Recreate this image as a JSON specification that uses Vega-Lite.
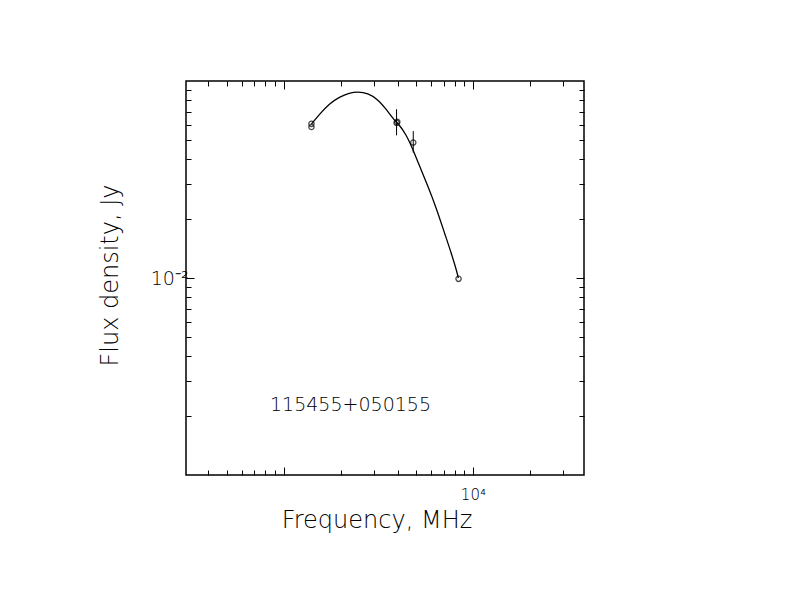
{
  "$schema": "https://vega.github.io/schema/vega-lite/v6.json",
  "width": 398,
  "height": 394,
  "autosize": "none",
  "padding": {"left": 186, "top": 81, "right": 208, "bottom": 137},
  "background": "white",
  "config": {
    "view": {"stroke": "black", "strokeWidth": 1.5},
    "axis": {
      "domain": false,
      "grid": false,
      "tickColor": "black",
      "tickWidth": 1,
      "labelColor": "black",
      "titleColor": "black",
      "labelFont": "DejaVu Sans",
      "titleFont": "DejaVu Sans",
      "labelFontWeight": 200,
      "titleFontWeight": 200,
      "labelOverlap": false,
      "labelFlush": false
    },
    "text": {"font": "DejaVu Sans", "fontWeight": 200}
  },
  "datasets": {
    "curve": [
      {"freq": 1402, "flux": 0.0605},
      {"freq": 1545, "flux": 0.0678},
      {"freq": 1745, "flux": 0.0768},
      {"freq": 1971, "flux": 0.0830},
      {"freq": 2226, "flux": 0.0870},
      {"freq": 2464, "flux": 0.0884},
      {"freq": 2783, "flux": 0.0867},
      {"freq": 3143, "flux": 0.0808},
      {"freq": 3482, "flux": 0.0719},
      {"freq": 3852, "flux": 0.0630},
      {"freq": 4011, "flux": 0.0612},
      {"freq": 4442, "flux": 0.0536},
      {"freq": 4814, "flux": 0.0450},
      {"freq": 5224, "flux": 0.0370},
      {"freq": 5780, "flux": 0.0293},
      {"freq": 6402, "flux": 0.0227},
      {"freq": 7085, "flux": 0.0169},
      {"freq": 7686, "flux": 0.0134},
      {"freq": 8270, "flux": 0.0106},
      {"freq": 8373, "flux": 0.0100}
    ],
    "points": [
      {"freq": 1402, "flux": 0.0606},
      {"freq": 1402, "flux": 0.0584},
      {"freq": 3950, "flux": 0.0613, "lo": 0.0530, "hi": 0.0719},
      {"freq": 3985, "flux": 0.0620},
      {"freq": 4840, "flux": 0.0487, "lo": 0.0433, "hi": 0.0557},
      {"freq": 8400, "flux": 0.0099}
    ],
    "labels": [
      {"name": "115455+050155"}
    ]
  },
  "layer": [
    {
      "data": {"name": "curve"},
      "mark": {"type": "line", "color": "black", "strokeWidth": 1.3, "interpolate": "basis"},
      "encoding": {
        "x": {
          "field": "freq", "type": "quantitative",
          "scale": {"type": "log", "domain": [304.5, 38670], "nice": false},
          "axis": {
            "orient": "bottom", "values": [1000, 10000], "tickSize": -8,
            "labelExpr": "datum.value == 10000 ? '10⁴' : ''",
            "labelFontSize": 15, "labelBaseline": "alphabetic", "labelPadding": 32,
            "title": "Frequency, MHz", "titleFontSize": 24,
            "titleX": 190.5, "titleY": 52, "titleBaseline": "alphabetic", "titleAlign": "center"
          }
        },
        "y": {
          "field": "flux", "type": "quantitative",
          "scale": {"type": "log", "domain": [0.001, 0.1], "nice": false},
          "axis": {
            "orient": "left", "values": [0.01], "tickSize": -8,
            "labelExpr": "'10⁻²'",
            "labelFontSize": 19, "labelPadding": 6, "labelBaseline": "middle",
            "title": "Flux density, Jy", "titleFontSize": 24, "titleAngle": -90,
            "titleX": -75.5, "titleY": 194, "titleBaseline": "middle", "titleAlign": "center"
          }
        }
      }
    },
    {
      "data": {"name": "points"},
      "mark": {"type": "point", "shape": "circle", "filled": false, "color": "black", "size": 28, "strokeWidth": 1.3},
      "encoding": {
        "x": {
          "field": "freq", "type": "quantitative",
          "scale": {"type": "log", "domain": [304.5, 38670], "nice": false},
          "axis": {
            "orient": "bottom", "values": [400, 500, 600, 700, 800, 900, 2000, 3000, 4000, 5000, 6000, 7000, 8000, 9000, 20000, 30000],
            "tickSize": -5, "labels": false, "title": null
          }
        },
        "y": {
          "field": "flux", "type": "quantitative",
          "scale": {"type": "log", "domain": [0.001, 0.1], "nice": false},
          "axis": {
            "orient": "left", "values": [0.002, 0.003, 0.004, 0.005, 0.006, 0.007, 0.008, 0.009, 0.02, 0.03, 0.04, 0.05, 0.06, 0.07, 0.08, 0.09],
            "tickSize": -5, "labels": false, "title": null
          }
        }
      }
    },
    {
      "data": {"name": "points"},
      "transform": [{"filter": "isValid(datum.lo)"}],
      "mark": {"type": "rule", "color": "black", "strokeWidth": 1},
      "encoding": {
        "x": {
          "field": "freq", "type": "quantitative",
          "scale": {"type": "log", "domain": [304.5, 38670], "nice": false},
          "axis": {"orient": "top", "values": [1000, 10000], "tickSize": -8, "labels": false, "title": null}
        },
        "y": {
          "field": "lo", "type": "quantitative",
          "scale": {"type": "log", "domain": [0.001, 0.1], "nice": false},
          "axis": {"orient": "right", "values": [0.01], "tickSize": -8, "labels": false, "title": null}
        },
        "y2": {"field": "hi"}
      }
    },
    {
      "data": {"name": "labels"},
      "mark": {"type": "text", "fontSize": 19, "color": "black", "align": "center", "baseline": "middle"},
      "encoding": {
        "text": {"field": "name", "type": "nominal"},
        "x": {
          "datum": 2255, "type": "quantitative",
          "scale": {"type": "log", "domain": [304.5, 38670], "nice": false},
          "axis": {
            "orient": "top", "values": [400, 500, 600, 700, 800, 900, 2000, 3000, 4000, 5000, 6000, 7000, 8000, 9000, 20000, 30000],
            "tickSize": -5, "labels": false, "title": null
          }
        },
        "y": {
          "datum": 0.00227, "type": "quantitative",
          "scale": {"type": "log", "domain": [0.001, 0.1], "nice": false},
          "axis": {
            "orient": "right", "values": [0.002, 0.003, 0.004, 0.005, 0.006, 0.007, 0.008, 0.009, 0.02, 0.03, 0.04, 0.05, 0.06, 0.07, 0.08, 0.09],
            "tickSize": -5, "labels": false, "title": null
          }
        }
      }
    }
  ],
  "resolve": {"axis": {"x": "independent", "y": "independent"}}
}
